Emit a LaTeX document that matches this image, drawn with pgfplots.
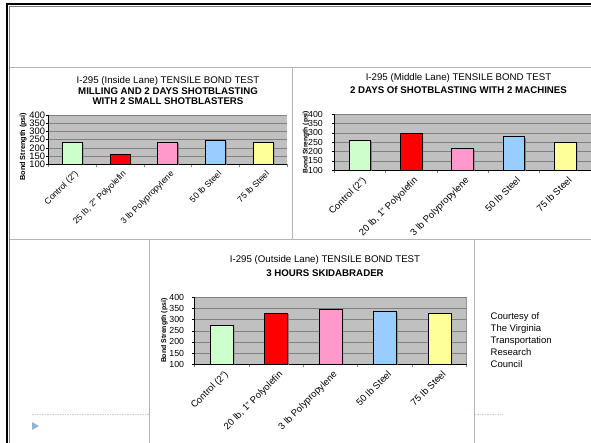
\documentclass[border=0pt]{standalone}
\usepackage{pgfplots}
\pgfplotsset{compat=1.18}
\usepackage{fontspec}
\setmainfont{Liberation Sans}

\definecolor{plotgray}{HTML}{C0C0C0}
\definecolor{gridgray}{HTML}{808080}
\definecolor{framegray}{HTML}{B4B4B4}
\definecolor{cGreen}{HTML}{CCFFCC}
\definecolor{cRed}{HTML}{FF0000}
\definecolor{cPink}{HTML}{FF99CC}
\definecolor{cBlue}{HTML}{99CCFF}
\definecolor{cYellow}{HTML}{FFFF99}
\definecolor{accent}{HTML}{95B3D7}
\definecolor{dashblue}{HTML}{C3D3E6}

\newcommand{\titlefont}{\fontsize{9.7}{11}\selectfont}

\pgfplotsset{
  panel/.style={
    scale only axis, anchor=south west,
    ymin=100, ymax=400, ytick={100,150,...,400},
    xmin=-0.5, xmax=4.5, xtick={0,...,4},
    minor xtick={-0.5,0.5,...,4.5},
    axis x line*=bottom, axis y line*=left,
    axis line style={black, line width=0.9pt, -},
    axis background/.style={fill=plotgray},
    ymajorgrids, major grid style={draw=gridgray, line width=0.6pt},
    major x tick style={draw=none},
    minor x tick style={draw=gridgray, line width=0.5pt},
    major y tick style={draw=black, line width=0.5pt},
    minor tick length=3pt, major tick length=2pt,
    tick align=outside,
    /pgf/number format/assume math mode=true,
    ybar, bar width=0.42,
    xticklabel style={rotate=45, anchor=north east, inner sep=1pt,
      yshift=-3pt, font=\fontsize{9.5}{10}\selectfont},
    yticklabel style={anchor=east, inner sep=0pt, font=\fontsize{8.8}{9}\selectfont},
    ylabel={Bond Strength (psi)},
  },
  ylab/.style n args={3}{every axis y label/.style={at={(rel axis cs:0,0.5)},
      xshift=#1, yshift=#2, rotate=90, anchor=center,
      font=\bfseries\fontsize{#3}{7}\selectfont}},
  cat/.style={fill=#1, draw=black, line width=0.7pt, bar shift=0pt},
  shadow/.style={fill=gridgray, draw=none, bar shift=0pt, xshift=1.3pt, yshift=-1.3pt},
}

\begin{document}
\begin{tikzpicture}
\path[use as bounding box] (0,0) rectangle (591pt,-443pt);
\fill[white] (0,0) rectangle (591pt,-443pt);

% slide furniture
\draw[dashblue, line width=0.8pt, dash pattern=on 1.5pt off 1pt] (32pt,-414pt) -- (503pt,-414pt);
\fill[accent] (32pt,-422pt) -- (39pt,-426pt) -- (32pt,-430pt) -- cycle;
\fill[white] (149.3pt,-239pt) rectangle (474.3pt,-443pt);
\draw[framegray, line width=0.7pt] (9pt,-67pt) -- (591pt,-67pt);
\draw[framegray, line width=0.7pt] (292.7pt,-67pt) -- (292.7pt,-239pt);
\draw[framegray, line width=0.7pt] (9pt,-239pt) -- (591pt,-239pt);
\draw[framegray, line width=0.7pt] (149.3pt,-239pt) -- (149.3pt,-443pt);
\draw[framegray, line width=0.7pt] (474.3pt,-239pt) -- (474.3pt,-443pt);
\draw[black, line width=2.4pt] (7.2pt,-443pt) -- (7.2pt,-4.2pt) -- (591pt,-4.2pt);
\draw[gridgray, line width=0.5pt] (9pt,-443pt) -- (9pt,-6pt) -- (591pt,-6pt);

% titles
\node[font=\titlefont] at (168pt,-80.5pt) {I-295 (Inside Lane) TENSILE BOND TEST};
\node[font=\titlefont\bfseries] at (168pt,-90.8pt) {MILLING AND 2 DAYS SHOTBLASTING};
\node[font=\titlefont\bfseries] at (168pt,-101pt) {WITH 2 SMALL SHOTBLASTERS};
\node[font=\titlefont] at (458.5pt,-77.5pt) {I-295 (Middle Lane) TENSILE BOND TEST};
\node[font=\titlefont\bfseries] at (458.5pt,-90.3pt) {2 DAYS Of SHOTBLASTING WITH 2 MACHINES};
\node[font=\titlefont] at (325pt,-260pt) {I-295 (Outside Lane) TENSILE BOND TEST};
\node[font=\titlefont\bfseries] at (325pt,-272.7pt) {3 HOURS SKIDABRADER};

\node[anchor=north west, align=left, inner sep=0pt, font=\fontsize{9.5}{12}\selectfont]
  at (490.5pt,-312pt) {Courtesy of\\The Virginia\\Transportation\\Research\\Council};

% Inside lane
\begin{axis}[panel, at={(48.3pt,-164.3pt)}, width=238.7pt, height=49.3pt,
  ylab={-25pt}{-7pt}{7.3},
  yticklabel style={xshift=-1pt, font=\fontsize{9.4}{9.5}\selectfont},
  xticklabel style={font=\fontsize{8.6}{9}\selectfont},
  xticklabels={{Control (2")},{25 lb, 2" Polyolefin},{3 lb Polypropylene},{50 lb Steel},{75 lb Steel}}]
\addplot[shadow] coordinates {(0,233) (1,160) (2,235) (3,246) (4,233)};
\addplot[cat=cGreen]  coordinates {(0,233)};
\addplot[cat=cRed]    coordinates {(1,160)};
\addplot[cat=cPink]   coordinates {(2,235)};
\addplot[cat=cBlue]   coordinates {(3,246)};
\addplot[cat=cYellow] coordinates {(4,233)};
\draw[gridgray, line width=0.6pt] (rel axis cs:1,0) -- (rel axis cs:1,1);
\end{axis}

% Middle lane
\begin{axis}[panel, at={(334pt,-170.3pt)}, width=257pt, height=56pt,
  ylab={-28pt}{0pt}{6.7},
  yticklabel style={xshift=-9pt},
  xticklabels={{Control (2")},{20 lb, 1" Polyolefin},{3 lb Polypropylene},{50 lb Steel},{75 lb Steel}}]
\addplot[shadow] coordinates {(0,260) (1,300) (2,218) (3,280) (4,250)};
\addplot[cat=cGreen]  coordinates {(0,260)};
\addplot[cat=cRed]    coordinates {(1,300)};
\addplot[cat=cPink]   coordinates {(2,218)};
\addplot[cat=cBlue]   coordinates {(3,280)};
\addplot[cat=cYellow] coordinates {(4,250)};
\end{axis}

% Outside lane
\begin{axis}[panel, at={(194.3pt,-364.3pt)}, width=272.4pt, height=67pt,
  ylab={-30pt}{0pt}{6.9},
  yticklabel style={xshift=-8pt},
  xticklabels={{Control (2")},{20 lb, 1" Polyolefin},{3 lb Polypropylene},{50 lb Steel},{75 lb Steel}}]
\addplot[shadow] coordinates {(0,275) (1,330) (2,345) (3,335) (4,330)};
\addplot[cat=cGreen]  coordinates {(0,275)};
\addplot[cat=cRed]    coordinates {(1,330)};
\addplot[cat=cPink]   coordinates {(2,345)};
\addplot[cat=cBlue]   coordinates {(3,335)};
\addplot[cat=cYellow] coordinates {(4,330)};
\draw[gridgray, line width=0.6pt] (rel axis cs:1,0) -- (rel axis cs:1,1);
\end{axis}
\end{tikzpicture}
\end{document}
